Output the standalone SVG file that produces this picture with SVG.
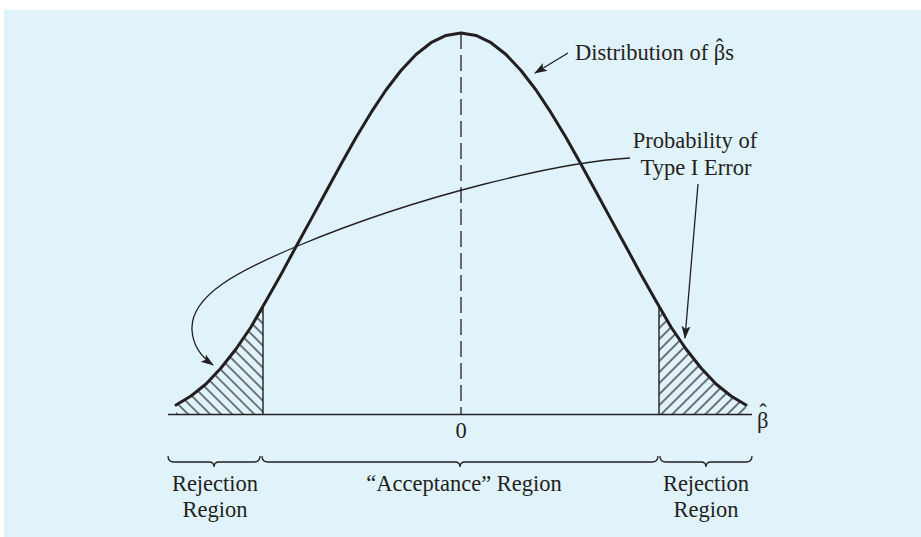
<svg xmlns="http://www.w3.org/2000/svg" width="921" height="537" viewBox="0 0 921 537">
<style>
.t{font-family:"Liberation Serif","Times New Roman",serif;font-size:22.5px;fill:#231f20}
.m{text-anchor:middle}
.crv{fill:none;stroke:#231f20;stroke-width:3;stroke-linejoin:round;stroke-linecap:round}
.thin{fill:none;stroke:#231f20;stroke-width:1.4}
.ln{fill:none;stroke:#231f20;stroke-width:1.3}
.ax{fill:none;stroke:#231f20;stroke-width:1.6}
</style>
<defs>
<marker id="ah" markerWidth="14" markerHeight="10" refX="12" refY="4.5" orient="auto" markerUnits="userSpaceOnUse">
<path d="M0,0 L13,4.5 L0,9 L3,4.5 Z" fill="#231f20"/>
</marker>
<pattern id="hL" width="7.8" height="7.8" patternUnits="userSpaceOnUse" patternTransform="rotate(-45)">
<line x1="3.9" y1="-1" x2="3.9" y2="9" stroke="#231f20" stroke-width="1.2"/>
</pattern>
<pattern id="hR" width="7.8" height="7.8" patternUnits="userSpaceOnUse" patternTransform="rotate(45)">
<line x1="3.9" y1="-1" x2="3.9" y2="9" stroke="#231f20" stroke-width="1.2"/>
</pattern>
</defs>
<rect x="0" y="0" width="921" height="537" fill="#ffffff"/>
<rect x="4" y="10" width="917" height="527" fill="#e0f2fa"/>

<g id="hatch-left">
<path d="M176,405 L191,396 L206,384 L221,368 L236,349 L251,327 L263,306 L263,414.5 L176,414.5 Z" fill="url(#hL)"/>
<line x1="263" y1="306" x2="263" y2="414.5" class="thin"/>
</g>
<g id="hatch-right">
<path d="M659,306 L671,327 L686,349 L701,368 L716,384 L731,396 L746,405 L746,414.5 L659,414.5 Z" fill="url(#hR)"/>
<line x1="659" y1="306" x2="659" y2="414.5" class="thin"/>
</g>

<g id="axis">
<line x1="168" y1="414.5" x2="752" y2="414.5" class="ax"/>
<line x1="461" y1="33" x2="461" y2="414.5" class="ln" stroke-dasharray="16 6"/>
<text x="461" y="438" class="t m">0</text>
<text x="757" y="428" class="t">β<tspan dx="-9.2" dy="-8">ˆ</tspan></text>
</g>

<g id="distribution-curve">
<path class="crv" d="M176,405 L191,396 L206,384 L221,368 L236,349 L251,327 L266,301 L281,274.5 L296,246.7 L311,219.4 L326,191.7 L341,164.2 L356,137.6 L371,112.7 L386,90 L401,70.5 L416,54.5 L431,42.7 L446,35.4 L461,33 L476,35.4 L491,42.7 L506,54.5 L521,70.5 L536,90 L551,112.7 L566,137.6 L581,164.2 L596,191.7 L611,219.4 L626,246.7 L641,274.5 L656,301 L671,327 L686,349 L701,368 L716,384 L731,396 L746,405"/>
</g>

<g id="label-distribution">
<text x="575" y="60" class="t">Distribution of β<tspan dx="-9.4" dy="-5">ˆ</tspan><tspan dx="1.9" dy="5">s</tspan></text>
</g>
<g id="label-probability">
<text x="695" y="148" class="t m">Probability of</text>
<text x="696" y="175" class="t m">Type I Error</text>
</g>

<g id="connectors">
<line x1="568" y1="53" x2="535" y2="73" class="ln" marker-end="url(#ah)"/>
<path d="M630,158 C560,162 420,195 300,245 C240,270 190,295 192,330 C193,348 203,358 213,365" class="ln" marker-end="url(#ah)"/>
<line x1="698" y1="184" x2="685" y2="338" class="ln" marker-end="url(#ah)"/>
</g>

<g id="braces">
<path class="ln" d="M168,456 Q168,462 174,462 L209,462 Q214,462 214,467 Q214,462 219,462 L254,462 Q260,462 260,456"/>
<path class="ln" d="M262,456 Q262,462 268,462 L455,462 Q460,462 460,467 Q460,462 465,462 L652,462 Q658,462 658,456"/>
<path class="ln" d="M660,456 Q660,462 666,462 L701,462 Q706,462 706,467 Q706,462 711,462 L746,462 Q752,462 752,456"/>
</g>

<g id="region-labels">
<text x="215" y="491" class="t m">Rejection</text>
<text x="215" y="517" class="t m">Region</text>
<text x="464" y="491" class="t m">“Acceptance” Region</text>
<text x="706" y="491" class="t m">Rejection</text>
<text x="706" y="517" class="t m">Region</text>
</g>
</svg>
